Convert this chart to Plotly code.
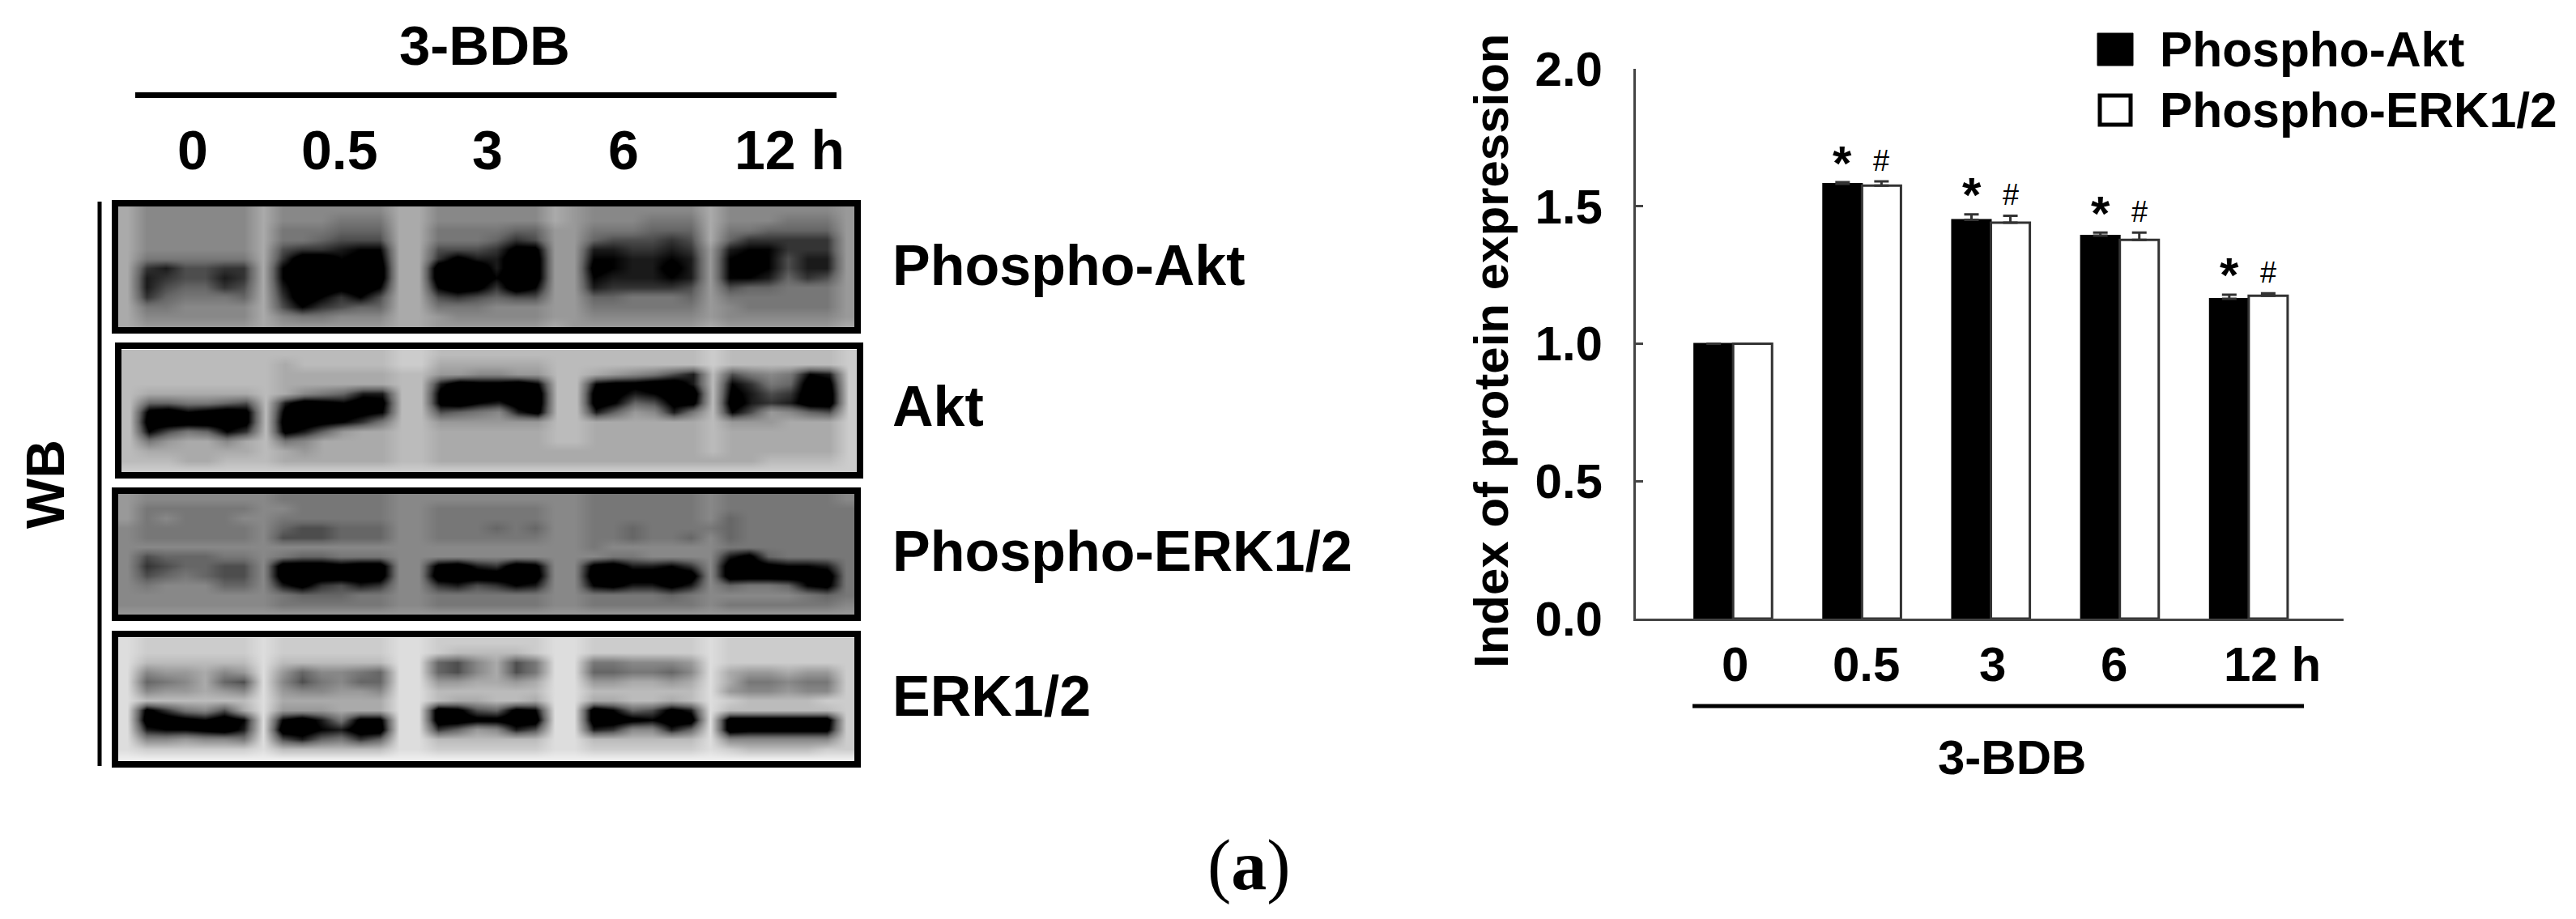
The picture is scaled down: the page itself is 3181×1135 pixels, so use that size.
import plotly.graph_objects as go

W, H = 3181, 1135
FONT = "Liberation Sans"

# ---- bar chart data ----
times = ["0", "0.5", "3", "6", "12 h"]
akt_values = [1.0, 1.581, 1.45, 1.393, 1.163]
akt_errors = [0.0, 0.006, 0.02, 0.011, 0.015]
erk_values = [1.0, 1.575, 1.44, 1.377, 1.174]
erk_errors = [0.0, 0.015, 0.025, 0.027, 0.009]
akt_marks = ["", "*", "*", "*", "*"]
erk_marks = ["", "#", "#", "#", "#"]
y_ticks = [0.0, 0.5, 1.0, 1.5, 2.0]
x_label_shift = [2, 5, 2, -7, 29]

# ---- blot labels ----
blot_names = ["Phospho-Akt", "Akt", "Phospho-ERK1/2", "ERK1/2"]
blot_label_y = [328, 502, 681, 860]
blot_lane_labels = ["0", "0.5", "3", "6", "12 h"]
blot_lane_x = [238, 419, 602, 770, 975]

# ---- blot panels: gray levels (hex 0-f), one string per row ----
blot_phospho_akt = [
    "a 888888 a 888888 aa 888888 a9 888888 a 888888 9",
    "a 888888 a 888777 aa 888888 a9 888777 a 888777 9",
    "a 888888 a 777666 aa 777766 99 777666 a 776666 9",
    "a 888888 a 776555 aa 777645 99 655545 a 644444 9",
    "a 888888 a 544322 aa 555411 99 334434 9 322444 9",
    "a 777777 a 400211 aa 413300 99 223323 9 212533 9",
    "a 435544 a 200100 aa 000300 99 123313 9 212533 9",
    "a 345534 a 200110 aa 000200 99 233323 9 223645 9",
    "a 356645 a 300102 aa 201402 99 344445 9 566777 9",
    "a 467776 a 402425 aa 545655 99 667776 9 777777 9",
    "a 778888 a 524566 aa 777888 99 777777 9 877777 9",
    "a 888888 a 877888 aa 988888 99 888888 9 888888 9",
    "a 999999 a 999999 aa 999999 a9 999999 a 999999 a",
]
blot_akt = [
    "b bbbbbb b bbbbbb cc bbbbbb bb bbbbbb c bbbbbb c",
    "b bbbbbb b abbbbb cc aaaaaa bb bbbbbb c bbbbbb c",
    "b bbbbbb b aaaaaa bb 998899 bb a98753 b 578723 c",
    "b bbbbbb b aaaaaa bb 301102 bb 211003 b 247601 c",
    "b aaaaaa b a87633 bb 100000 bb 013200 b 135400 c",
    "b 667765 b 301201 bb 102300 bb 026511 b 034300 c",
    "b 102101 b 100012 bb 567831 bb 369837 b 259865 c",
    "b 000001 b 001247 bb 999999 bb aaaaaa b 999aaa c",
    "b 257624 b 1369aa bb aaaaaa bb aaaaaa b aaaaaa c",
    "b 79aa8a b 78aaaa bb aaaaaa bb aaaaaa b aaaaaa c",
    "b aaaaaa b a9aaaa bb aaaaaa aa aaaaaa b aaaaaa c",
    "b bbaabb b aaaaaa bb aaaaaa aa aaaaaa a aabbbb c",
    "c cccccc c cccccc cc cccccc cc cccccc c cccccc c",
]
blot_phospho_erk = [
    "9 888888 8 777777 88 888888 88 777777 8 777777 8",
    "9 777777 8 877777 88 777777 88 777777 8 777777 7",
    "9 787778 8 777777 88 777777 88 777777 8 677777 7",
    "8 777777 8 655666 88 777676 88 776777 7 677777 7",
    "8 777777 8 555666 88 777777 88 776776 8 677777 7",
    "8 888888 8 888888 88 888888 88 788888 8 777777 7",
    "8 566677 8 766777 88 888888 88 877888 8 316777 7",
    "8 456655 8 000100 88 103401 88 103324 8 001223 7",
    "8 567655 8 000000 88 000000 88 000000 8 000010 7",
    "8 788866 8 314534 88 435423 88 213313 8 677621 7",
    "8 888888 8 766677 88 777777 88 777767 8 888876 7",
    "8 888888 8 777777 88 777777 88 777777 8 777777 8",
    "9 999999 9 999999 99 999999 99 999999 9 999999 9",
]
blot_erk = [
    "d cccccc d cccccc dd cccccc dd cccccc d cccccc c",
    "d cccccc d cccccc dd cbbbbc dd cccccc d cccccc c",
    "d bbbbbb d bbbbbb dd 658a57 dd 778889 d cccccc c",
    "d 899a89 d 968876 dd 658a57 dd 667768 d a99a99 c",
    "d 678a65 d 857866 dd 99aa9a dd 99aa9a d a77877 c",
    "d 899a98 d 988998 dd bbbbbb dd bbbbbb d 988988 c",
    "d bbbbbb d aaaaaa dd baabba dd aabbab d cbbbbc c",
    "d 14785a d 999aaa dd 015612 dd 026513 d bbbbbb c",
    "d 001202 d 203711 dd 001100 dd 001200 d 000000 c",
    "d 322103 d 002300 dd 469835 dd 348836 d 011111 c",
    "d 889887 d 536746 dd bbbbbb dd bbbbbb d 888888 c",
    "d cccccc d bbbbbb dd cccccc dd cccccc d cbbbbc c",
    "e eeeeee e eeeeee ee eeeeee ee eeeeee e eeeeee e",
]
blot_rows = [blot_phospho_akt, blot_akt, blot_phospho_erk, blot_erk]
blot_left = [145, 148, 145, 145]
blot_top = [254, 432, 610, 788]
blot_frame = [(142, 251, 1059, 408), (146, 427, 1062, 587), (142, 606, 1059, 763), (142, 783, 1059, 944)]
CELL_W, CELL_H = 24.0, 11.9
BLOT_SCALE = [[0, "#000000"], [0.13, "#000000"], [0.4, "#666666"], [1, "#ffffff"]]


def parse(rows):
    return [[int(c, 16) for c in r.replace(" ", "")] for r in rows]


fig = go.Figure()

# bars
fig.add_bar(name="Phospho-Akt", x=times, y=akt_values,
            error_y=dict(type="data", symmetric=False, array=akt_errors, arrayminus=[0]*5,
                         thickness=3, width=9, color="#333333"),
            marker=dict(color="#000000", line=dict(color="#000000", width=2)))
fig.add_bar(name="Phospho-ERK1/2", x=times, y=erk_values,
            error_y=dict(type="data", symmetric=False, array=erk_errors, arrayminus=[0]*5,
                         thickness=3, width=9, color="#333333"),
            marker=dict(color="#ffffff", line=dict(color="#333333", width=3)))

# blots on a full-page pixel axis pair
for rows, left, top in zip(blot_rows, blot_left, blot_top):
    fig.add_heatmap(z=parse(rows), x0=left + CELL_W / 2, dx=CELL_W, y0=top + CELL_H / 2, dy=CELL_H,
                    xaxis="x2", yaxis="y2", zmin=0, zmax=15, zsmooth="best", showscale=False,
                    colorscale=BLOT_SCALE, hoverinfo="skip")


def px_text(text, x, y, size, xanchor="center", angle=0, family=FONT, bold=True):
    return dict(text=f"<b>{text}</b>" if bold else text, x=x, y=y, xref="x2", yref="y2",
                xanchor=xanchor, yanchor="middle", showarrow=False, textangle=angle,
                font=dict(family=family, size=size, color="#000000"))


annotations = [
    px_text("3-BDB", 598, 56, 69),
    px_text("WB", 56, 598, 66, angle=-90),
    px_text("3-BDB", 2484, 935, 60),
    px_text("Index of protein expression", 1841, 433, 60, angle=-90),
    px_text("Phospho-Akt", 2665, 61, 60.5, xanchor="left"),
    px_text("Phospho-ERK1/2", 2665, 136, 60.5, xanchor="left"),
    px_text("(<b>a</b>)", 1542, 1068, 88, family="Liberation Serif", bold=False),
]
for name, y in zip(blot_names, blot_label_y):
    annotations.append(px_text(name, 1100, y, 70, xanchor="left"))
for label, x in zip(blot_lane_labels, blot_lane_x):
    annotations.append(px_text(label, x, 185, 68))

for i, t in enumerate(times):
    annotations.append(dict(text=f"<b>{t}</b>", x=i, xref="x", xshift=x_label_shift[i],
                            y=820, yref="y2", showarrow=False, xanchor="center", yanchor="middle",
                            font=dict(family=FONT, size=60, color="#000000")))
    if akt_marks[i]:
        annotations.append(dict(text=f"<b>{akt_marks[i]}</b>", x=i, xref="x", xshift=-24,
                                y=akt_values[i] + akt_errors[i], yref="y", yshift=24,
                                showarrow=False, xanchor="center", yanchor="middle",
                                font=dict(family=FONT, size=60, color="#000000")))
    if erk_marks[i]:
        annotations.append(dict(text=erk_marks[i], x=i, xref="x", xshift=24,
                                y=erk_values[i] + erk_errors[i], yref="y", yshift=26,
                                showarrow=False, xanchor="center", yanchor="middle",
                                font=dict(family=FONT, size=36, color="#000000")))


def line(x0, y0, x1, y1, width, color="#000000"):
    return dict(type="line", xref="x2", yref="y2", x0=x0, y0=y0, x1=x1, y1=y1,
                line=dict(color=color, width=width))


shapes = [
    line(167, 117.5, 1033, 117.5, 7),
    line(123, 249, 123, 946, 5),
    line(2090, 872, 2845, 872, 5),
    dict(type="rect", xref="x2", yref="y2", x0=2590, y0=41, x1=2634, y1=81,
         fillcolor="#000000", line=dict(color="#000000", width=1)),
    dict(type="rect", xref="x2", yref="y2", x0=2593, y0=118, x1=2631, y1=154,
         fillcolor="#ffffff", line=dict(color="#000000", width=5)),
]
for x0, y0, x1, y1 in blot_frame:
    shapes.append(dict(type="rect", xref="x2", yref="y2", x0=x0, y0=y0, x1=x1, y1=y1,
                       fillcolor="rgba(0,0,0,0)", line=dict(color="#000000", width=8)))

fig.update_layout(
    width=W, height=H, margin=dict(l=0, r=0, t=0, b=0, autoexpand=False),
    paper_bgcolor="#ffffff", plot_bgcolor="rgba(0,0,0,0)",
    showlegend=False, barmode="group", bargap=0.396, bargroupgap=0,
    annotations=annotations, shapes=shapes,
    xaxis=dict(type="category", domain=[2020 / W, 2894 / W], range=[-0.755, 4.736], automargin=False,
               showticklabels=False, ticks="", showgrid=False, zeroline=False,
               showline=True, linecolor="#444444", linewidth=3, anchor="y"),
    yaxis=dict(domain=[1 - 764 / H, 1 - 84.8 / H], range=[0, 2], tickmode="array", tickvals=y_ticks,
               automargin=False,
               tickformat=".1f", ticks="inside", ticklen=9, tickwidth=3, tickcolor="#444444",
               showgrid=False, zeroline=False, showline=True, linecolor="#444444", linewidth=3,
               ticklabelstandoff=26,
               tickfont=dict(family=FONT, size=60, color="#000000", weight="bold"),
               anchor="x"),
    xaxis2=dict(domain=[0, 1], range=[0, W], visible=False, anchor="y2", automargin=False),
    yaxis2=dict(domain=[0, 1], range=[H, 0], visible=False, anchor="x2", automargin=False),
)

fig.write_html("out.html", post_script="document.body.style.margin='0';",
               config=dict(displayModeBar=False))
